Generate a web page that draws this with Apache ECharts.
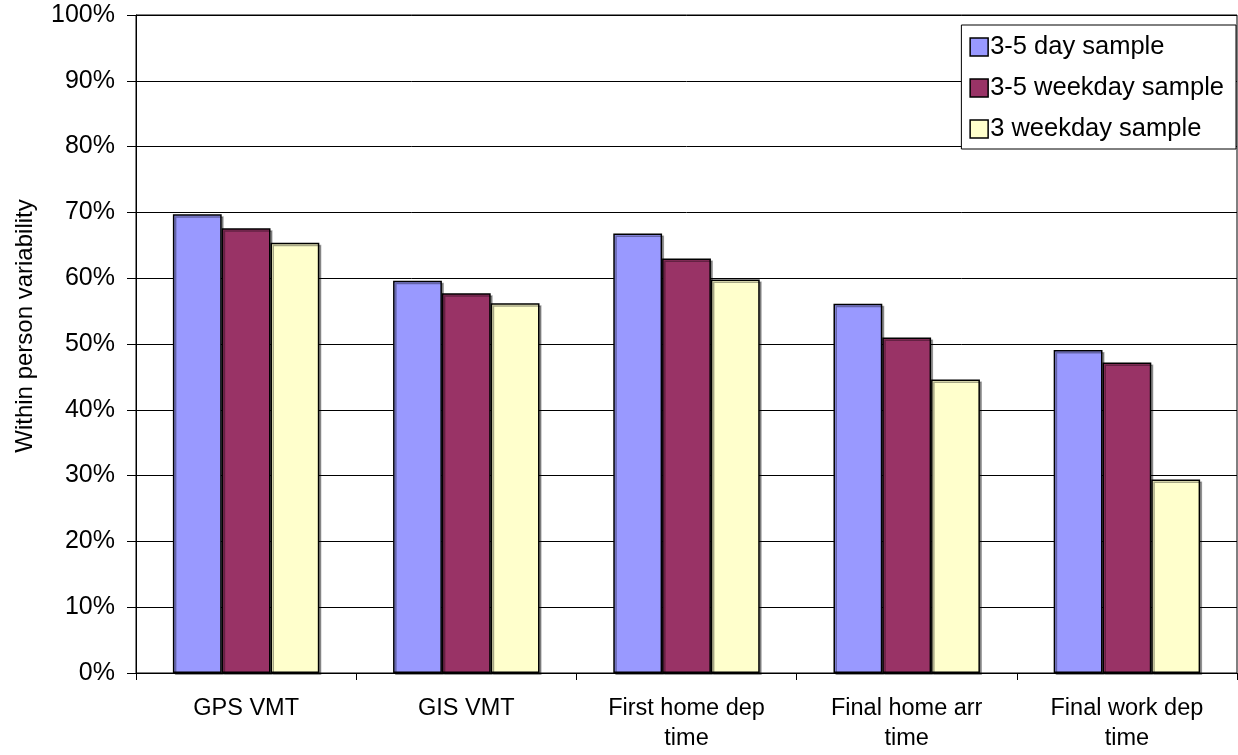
<!DOCTYPE html>
<html><head><meta charset="utf-8">
<script src="https://cdn.jsdelivr.net/npm/echarts@6/dist/echarts.min.js"></script>
<style>html,body{margin:0;padding:0;background:#fff}#c{width:1238px;height:755px}</style>
</head><body><div id="c"></div>
<script>
const categories = ["GPS VMT", "GIS VMT", "First home dep\ntime", "Final home arr\ntime", "Final work dep\ntime"];
const seriesNames = ["3-5 day sample", "3-5 weekday sample", "3 weekday sample"];
const day35 = [69.7, 59.6, 66.8, 56.1, 49.1];
const weekday35 = [67.6, 57.7, 63.0, 51.0, 47.2];
const weekday3 = [65.4, 56.2, 59.8, 44.6, 29.4];
const yTicks = [0, 10, 20, 30, 40, 50, 60, 70, 80, 90, 100];
const colors = ["#9999FF", "#993366", "#FFFFCC"];
const font = "Liberation Sans, Arial, sans-serif";

const chart = echarts.init(document.getElementById('c'), null, {renderer: 'canvas'});
const values = [day35, weekday35, weekday3];
chart.setOption({
  animation: false,
  backgroundColor: '#fff',
  grid: {left: 136, right: 1, top: 15, bottom: 82, outerBoundsMode: 'none', containLabel: false,
    show: true, borderColor: '#000', borderWidth: 1, backgroundColor: 'transparent'},
  legend: {
    orient: 'vertical', right: 2, top: 25,
    backgroundColor: '#fff', borderColor: '#000', borderWidth: 1,
    padding: [9, 12, 7, 8], itemGap: 15, itemWidth: 18, itemHeight: 18,
    textStyle: {fontFamily: font, fontSize: 25.5, color: '#000', padding: [0,0,0,-3]},
    data: seriesNames.map(n => ({name: n, icon: 'rect', itemStyle: {borderColor: '#000', borderWidth: 1.5}}))
  },
  xAxis: {
    type: 'category', data: categories,
    axisLine: {lineStyle: {color: '#000', width: 1}},
    axisTick: {show: true, length: 7, lineStyle: {color: '#000'}},
    axisLabel: {fontFamily: font, fontSize: 23.5, color: '#000', margin: 21, lineHeight: 30, interval: 0}
  },
  yAxis: {
    type: 'value', min: 0, max: 100, interval: 10,
    name: 'Within person variability', nameLocation: 'middle', nameGap: 99, nameRotate: 90,
    nameTextStyle: {fontFamily: font, fontSize: 24, color: '#000', padding: [0, 0, 0, 36]},
    axisLine: {show: true, lineStyle: {color: '#000'}},
    axisTick: {show: true, length: 9, lineStyle: {color: '#000'}},
    axisLabel: {fontFamily: font, fontSize: 25, color: '#000', margin: 21,
      formatter: v => yTicks.includes(v) ? v + '%' : ''},
    splitLine: {show: true, lineStyle: {color: '#000', width: 1}}
  },
  series: seriesNames.map((n, i) => ({
    name: n, type: 'bar', data: values[i],
    barGap: '0%', barCategoryGap: '33.5%',
    itemStyle: {color: colors[i], borderColor: '#000', borderWidth: 1.5,
      shadowColor: 'rgba(0,0,0,0.35)', shadowOffsetX: 2, shadowOffsetY: 2, shadowBlur: 0}
  }))
});
</script></body></html>
